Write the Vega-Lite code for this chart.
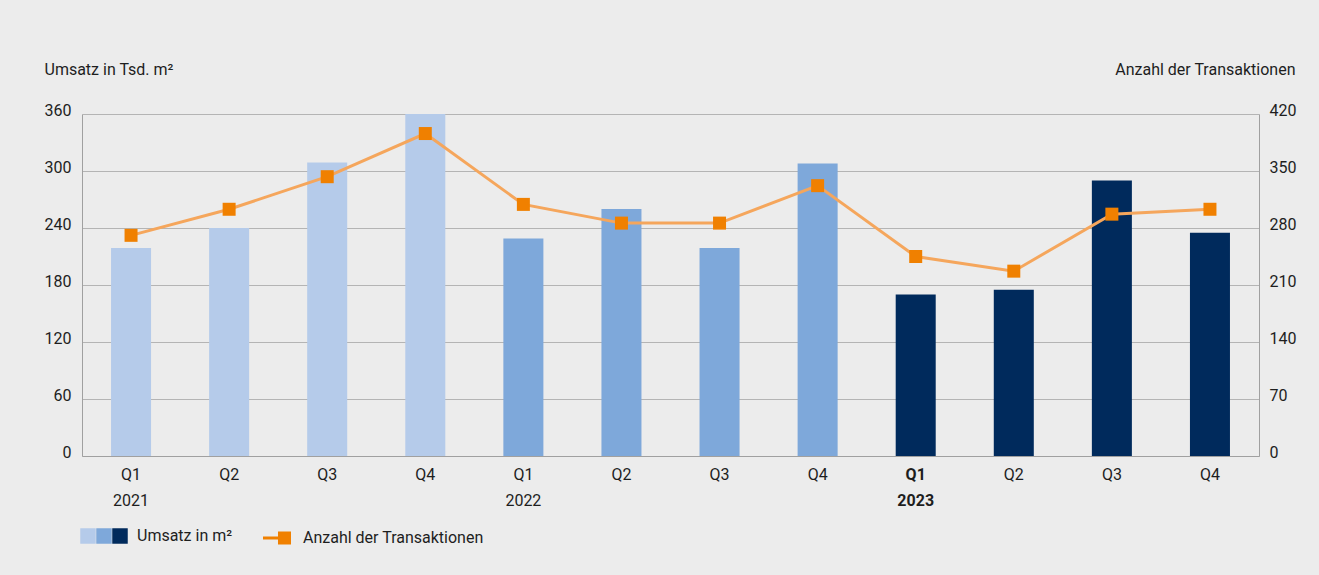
{
  "$schema": "https://vega.github.io/schema/vega-lite/v6.json",
  "width": 1177,
  "height": 342,
  "autosize": {"type": "none"},
  "padding": {"left": 82, "top": 114, "right": 60, "bottom": 119},
  "background": "#ececec",
  "config": {
    "font": "Roboto",
    "view": {"stroke": null},
    "axis": {"labelFont": "Roboto", "titleFont": "Roboto", "labelColor": "#1e1e1e", "titleColor": "#1e1e1e", "labelFontSize": 16, "titleFontSize": 16, "titleFontWeight": "normal"},
    "legend": {"labelFont": "Roboto", "titleFont": "Roboto", "labelColor": "#1e1e1e", "titleColor": "#1e1e1e", "labelFontSize": 16, "titleFontSize": 16, "titleFontWeight": "normal", "padding": 0, "labelLimit": 400}
  },
  "data": {
    "values": [
      {"period": "2021 Q1", "year": "2021", "umsatz": 219, "anzahl": 271},
      {"period": "2021 Q2", "year": "2021", "umsatz": 240, "anzahl": 303},
      {"period": "2021 Q3", "year": "2021", "umsatz": 309, "anzahl": 343},
      {"period": "2021 Q4", "year": "2021", "umsatz": 360, "anzahl": 396},
      {"period": "2022 Q1", "year": "2022", "umsatz": 229, "anzahl": 309},
      {"period": "2022 Q2", "year": "2022", "umsatz": 260, "anzahl": 286},
      {"period": "2022 Q3", "year": "2022", "umsatz": 219, "anzahl": 286},
      {"period": "2022 Q4", "year": "2022", "umsatz": 308, "anzahl": 332},
      {"period": "2023 Q1", "year": "2023", "umsatz": 170, "anzahl": 245},
      {"period": "2023 Q2", "year": "2023", "umsatz": 175, "anzahl": 227},
      {"period": "2023 Q3", "year": "2023", "umsatz": 290, "anzahl": 297},
      {"period": "2023 Q4", "year": "2023", "umsatz": 235, "anzahl": 303}
    ]
  },
  "layer": [
    {
      "mark": {"type": "bar"},
      "encoding": {
        "x": {
          "field": "period", "type": "nominal",
          "scale": {"paddingInner": 0.592, "paddingOuter": 0.296},
          "axis": {
            "title": null, "labelAngle": 0,
            "labelExpr": "[slice(datum.value, 5), indexof(datum.value, 'Q1') >= 0 ? slice(datum.value, 0, 4) : '']",
            "labelLineHeight": 26,
            "labelFontWeight": {"condition": {"test": "datum.value == '2023 Q1'", "value": "bold"}, "value": "normal"},
            "ticks": false,
            "domainColor": "#a0a0a0", "labelPadding": 10, "labelBaseline": "top", "grid": false
          }
        },
        "y": {
          "field": "umsatz", "type": "quantitative",
          "scale": {"domain": [0, 360], "nice": false},
          "axis": {
            "title": "Umsatz in Tsd. m²", "values": [0, 60, 120, 180, 240, 300, 360],
            "grid": true, "gridColor": "#b4b4b4", "domainColor": "#a0a0a0", "ticks": false,
            "labelPadding": 11, "labelOffset": -4,
            "titleAngle": 0, "titleX": -38, "titleY": -40, "titleAlign": "left", "titleBaseline": "alphabetic"
          }
        },
        "color": {
          "field": "year", "type": "nominal",
          "scale": {"domain": ["2021", "2022", "2023"], "range": ["#b5cbea", "#7ea8da", "#002a5c"]},
          "legend": {
            "orient": "none", "legendX": -2, "legendY": 414,
            "direction": "horizontal", "symbolType": "square", "symbolSize": 240,
            "symbolStrokeWidth": 0, "symbolOpacity": 1,
            "labelExpr": "''", "labelOffset": 0, "columnPadding": 0,
            "title": "Umsatz in m²", "titleOrient": "right", "titlePadding": 9
          }
        }
      }
    },
    {
      "layer": [
        {
          "mark": {"type": "line", "color": "#f5a65c", "strokeWidth": 3},
          "encoding": {
            "x": {"field": "period", "type": "nominal"},
            "y": {
              "field": "anzahl", "type": "quantitative",
              "scale": {"domain": [0, 420], "nice": false},
              "axis": {
                "orient": "right", "title": "Anzahl der Transaktionen",
                "values": [0, 70, 140, 210, 280, 350, 420],
                "grid": false, "domainColor": "#a0a0a0", "ticks": false,
                "labelPadding": 10, "labelOffset": -4,
                "titleAngle": 0, "titleX": 36, "titleY": -40, "titleAlign": "right", "titleBaseline": "alphabetic"
              }
            }
          }
        },
        {
          "mark": {"type": "point", "shape": "square", "filled": true, "size": 169, "opacity": 1},
          "encoding": {
            "x": {"field": "period", "type": "nominal"},
            "y": {"field": "anzahl", "type": "quantitative"},
            "color": {
              "datum": "Anzahl der Transaktionen",
              "scale": {"range": ["#f08000"]},
              "legend": {
                "orient": "none", "legendX": 181, "legendY": 410, "title": null,
                "symbolType": "M -1 -0.107 H 0.071 V 0.107 H -1 Z M 0.071 -0.464 H 1 V 0.464 H 0.071 Z",
                "symbolSize": 784, "symbolStrokeWidth": 0, "symbolOpacity": 1, "labelOffset": 12
              }
            }
          }
        }
      ]
    }
  ],
  "resolve": {"scale": {"y": "independent", "color": "independent"}}
}
